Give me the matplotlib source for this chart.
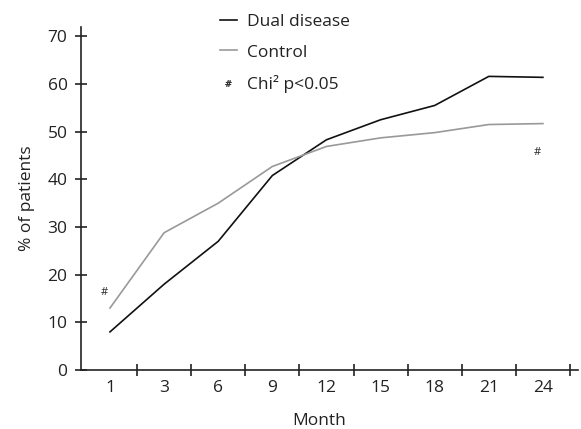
import matplotlib
matplotlib.use("Agg")
import matplotlib.pyplot as plt
from matplotlib.lines import Line2D

plt.rcParams['font.family'] = ['Open Sans', 'DejaVu Sans']

months = ["1", "3", "6", "9", "12", "15", "18", "21", "24"]
dual_disease = [8.0, 18.0, 27.0, 40.8, 48.3, 52.5, 55.5, 61.6, 61.4]
control = [13.0, 28.8, 35.0, 42.7, 46.9, 48.7, 49.8, 51.5, 51.7]
sig_months = ["1", "24"]
sig_values = [16.2, 45.6]

fig = plt.figure(figsize=(5.81, 4.29), dpi=100)
ax = fig.add_axes([0.139, 0.1375, 0.856, 0.80])

x = list(range(len(months)))
ax.plot(x, dual_disease, color="#111111", lw=1.2)
ax.plot(x, control, color="#999999", lw=1.2)
for m, v in zip(sig_months, sig_values):
    i = months.index(m)
    ax.text(i - 0.1, v, "#", fontsize=8, ha="center", va="center", color="#222222")

ax.set_xlim(-0.54, 8.65)
ax.set_ylim(0, 72)
ax.set_yticks(range(0, 71, 10))
ax.set_xticks([i + 0.5 for i in x])
ax.set_xticklabels([])
ax.set_xticks(x, minor=True)
ax.set_xticklabels(months, minor=True)
ax.tick_params(axis="x", which="minor", length=0, pad=7, labelsize=12.5, colors="#222222")
ax.tick_params(axis="x", which="major", direction="inout", length=9, width=1.2, color="#222222")
ax.tick_params(axis="y", direction="inout", length=9, width=1.2, labelsize=12.5, colors="#222222", pad=5)
for s in ["top", "right"]:
    ax.spines[s].set_visible(False)
for s in ["left", "bottom"]:
    ax.spines[s].set_linewidth(1.2)
    ax.spines[s].set_color("#222222")

ax.set_xlabel("Month", fontsize=12.5, color="#222222")
ax.xaxis.set_label_coords(0.48, -0.125)
ax.set_ylabel("% of patients", fontsize=12.5, color="#222222", labelpad=9)

handles = [
    Line2D([], [], color="#111111", lw=1.2),
    Line2D([], [], color="#999999", lw=1.2),
    Line2D([], [], ls="none", marker="$\\#$", color="#222222", markersize=4.5,
           markeredgewidth=0.3),
]
labels = ["Dual disease", "Control", "Chi² p<0.05"]
fig.legend(handles, labels, loc="upper left", bbox_to_anchor=(0.352, 1.005),
           frameon=False, fontsize=12.5, handlelength=0.95, handletextpad=0.6,
           labelspacing=0.85, labelcolor="#222222")

fig.savefig("out.png", dpi=100)
